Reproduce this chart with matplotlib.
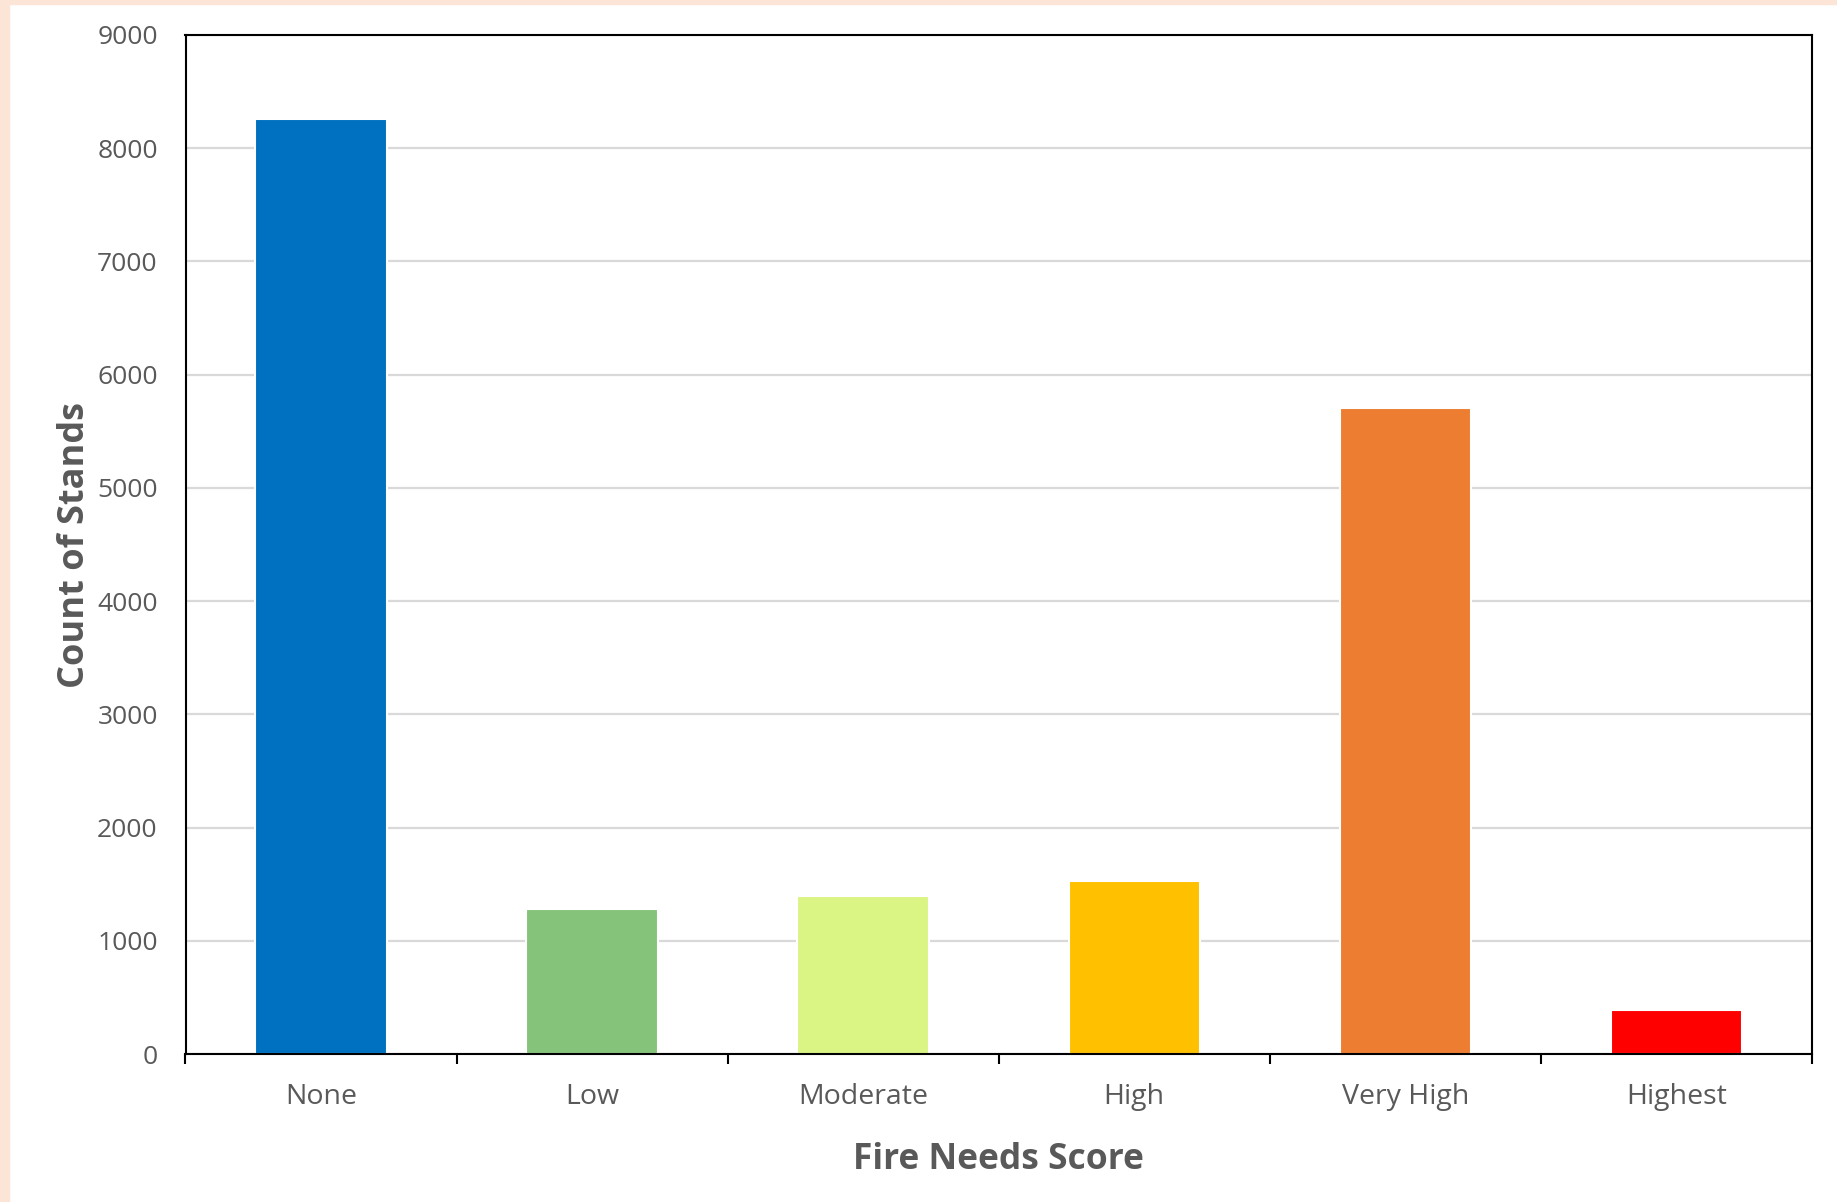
import matplotlib.pyplot as plt
from matplotlib.patches import Rectangle
import numpy as np

# data
categories = ['None', 'Low', 'Moderate', 'High', 'Very High', 'Highest']
counts = [8255, 1280, 1395, 1525, 5710, 385]
barColours = ['#0070C0', '#86C37A', '#DBF585', '#FFC000', '#ED7D31', '#FF0000']

textColour = '#595959'
plt.rcParams['font.family'] = ['Open Sans', 'DejaVu Sans']

W, H = 1837, 1202
fig = plt.figure(figsize=(W / 100, H / 100), dpi=100)

# peach frame on the left and top edges
fig.patches.append(Rectangle((0, 0), 9 / W, 1, transform=fig.transFigure,
                             color='#FCE4D6', zorder=0))
fig.patches.append(Rectangle((0, 1 - 4 / H), 1, 4 / H, transform=fig.transFigure,
                             color='#FCE4D6', zorder=0))

ax = fig.add_axes([185.5 / W, 1 - 1054 / H, (1812 - 185.5) / W, (1054 - 35) / H])

x = np.arange(len(categories))
ax.bar(x, counts, width=0.485, color=barColours, edgecolor='white',
       linewidth=1.5, zorder=3)

ax.set_xlim(-0.5, len(categories) - 0.5)
ax.set_ylim(0, 9000)
ax.set_yticks(np.arange(0, 9001, 1000))
ax.yaxis.grid(True, color='#D9D9D9', linewidth=1.6, zorder=0)
ax.set_axisbelow(True)

# category ticks sit on the boundaries, labels in the middle
ax.set_xticks(np.arange(-0.5, len(categories)), minor=False)
ax.set_xticklabels([''] * (len(categories) + 1))
ax.set_xticks(x, minor=True)
ax.set_xticklabels(categories, minor=True)
ax.tick_params(axis='x', which='major', direction='out', length=7, width=1.5, color='black')
ax.tick_params(axis='x', which='minor', length=0, pad=21, labelsize=20.5, labelcolor=textColour)
ax.tick_params(axis='y', length=0, pad=20, labelsize=19, labelcolor=textColour)

for s in ax.spines.values():
    s.set_linewidth(1.5)
    s.set_color('black')
    s.set_zorder(4)

ax.set_xlabel('Fire Needs Score', fontsize=25.5, fontweight='bold', color=textColour, labelpad=22)
ax.set_ylabel('Count of Stands', fontsize=26, fontweight='bold', color=textColour, labelpad=3)

fig.savefig('out.png', dpi=100)
